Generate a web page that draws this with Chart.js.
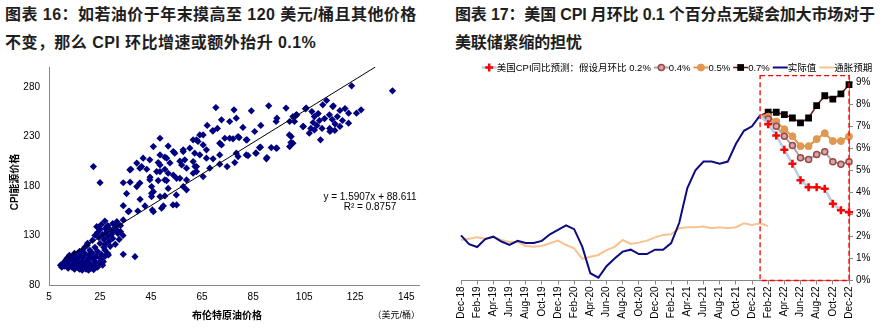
<!DOCTYPE html>
<html>
<head>
<meta charset="utf-8">
<script src="https://cdn.jsdelivr.net/npm/chart.js@4.4.0/dist/chart.umd.min.js"></script>
<style>
  body { margin: 0; background: #fff; width: 883px; height: 329px; overflow: hidden; position: relative;
         font-family: "Liberation Sans", "Noto Sans CJK SC", sans-serif; }
  .ttl { position: absolute; top: 1px; font-weight: bold; font-size: 16px; line-height: 28px; color: #1e1e1e; white-space: nowrap; }
  #cvL { position: absolute; left: 0; top: 0; }
  #cvR { position: absolute; left: 440px; top: 0; }
</style>
</head>
<body>
<div class="ttl" style="left:5px;letter-spacing:0.45px">图表 16：如若油价于年末摸高至 120 美元/桶且其他价格<br>不变，那么 CPI 环比增速或额外抬升 0.1%</div>
<div class="ttl" style="left:455px;letter-spacing:-0.15px">图表 17：美国 CPI 月环比 0.1 个百分点无疑会加大市场对于<br>美联储紧缩的担忧</div>
<canvas id="cvL" width="440" height="329"></canvas>
<canvas id="cvR" width="443" height="329"></canvas>
<script>
// ---- left: brent vs CPI energy ----
const brentPrice = [
  9.5, 10, 10.5, 11, 11.5, 12, 12.5, 13, 13, 13.5,
  14, 14, 14.5, 15, 15, 15.5, 16, 16, 16.5, 17,
  17, 17.5, 18, 18, 18.5, 18.5, 19, 19, 19.5, 20,
  20, 20.5, 21, 21, 21.5, 22, 22, 22.5, 23, 23.5,
  24, 24.5, 25, 25.5, 26, 26.5, 27, 28, 19, 17,
  16, 20, 23, 15, 13, 12, 18, 21, 24, 26,
  16.5, 17.5, 19.5, 14.5, 22.5, 20.5,
  26.3, 34.1, 38.7, 28.3, 26.9, 20.1,
  22, 23, 23.7, 24, 24.5, 25, 25, 25.5, 26, 26.5,
  26.9, 27, 27.5, 28, 28, 28.5, 29, 29.5, 30, 30,
  30.5, 31, 31.6, 32, 32.5, 33, 34.1, 31, 29, 27,
  33, 31.5, 31.5, 34,
  34.1, 36.4, 39.8, 45.5, 49.1, 35.4, 34.1, 36.8, 37.1, 39.4,
  40.7, 41.3, 42.6, 43.3, 44.6, 45.2, 45.9, 45.2, 48.5, 47.8,
  48.5, 47.8, 49.8, 50.4, 50.4, 51.7, 52.4, 54.3, 53.7, 55,
  56.3, 57.6, 58.2, 58.9, 60.2, 61.5, 62.1, 63.4, 62.8, 57.6,
  50.4, 51.7, 55, 22.4, 25, 45.2, 50.4, 54.9, 53.6, 45.9,
  36.1, 58.9, 36.7, 40.6, 51.1, 53.7, 57.6, 61.5, 64.1, 65.4,
  69.3, 71.9, 71.9, 75.8, 64.1, 66.7, 61.5, 57, 48.5, 47.2,
  51.7, 56.3, 58.9, 62.8, 51.1, 40.6, 44.5, 45.9, 48.5, 44.5,
  41.9, 39.4, 48.5,
  70.4, 77.5, 84.3, 91.1, 97.9, 72.6, 75.8, 78.4, 69.1, 65.4,
  62.8, 73.9, 77.1, 79.5, 82.6, 85.6, 87.5, 92.1, 94.3, 90.4,
  86, 83, 79.1, 74.8, 71.9, 68, 69.3, 72.6, 66.7, 62.2,
  65.4, 94.3, 99.3, 100.6, 102.1, 99.9, 99.3, 100.6, 94, 88,
  81, 67, 71, 82.3, 82.3, 86.2, 87.9, 90.2, 94, 77.8,
  78.4, 79.1,
  123.6, 139.6, 113.8, 116.4, 119, 122.4, 125.5, 127.3, 122.4, 117.1,
  115.1, 111.4, 105.8, 101.9, 101.2, 104.5, 107.6, 108.5, 109, 110,
  110.5, 111, 112, 112.3, 114.9, 107, 109, 99.2, 99.8, 113,
  116, 118, 120, 105.5, 108, 115, 117, 119, 121, 116.2,
  104.7, 101.6
];
const cpiEnergy = [
  100, 98, 102, 99, 104, 101, 97, 103, 106, 100,
  98, 104, 108, 96, 101, 105, 99, 103, 107, 96,
  110, 101, 95, 104, 98, 108, 101, 112, 96, 105,
  99, 110, 102, 115, 97, 107, 112, 100, 104, 109,
  114, 102, 107, 111, 104, 118, 109, 112, 118, 114,
  111, 120, 118, 112, 110, 107, 114, 108, 98, 100,
  97, 99, 103, 102, 95.5, 95,
  103.5, 111, 108.6, 110.3, 115.4, 122.1,
  125, 130, 138.9, 133, 128, 136, 122, 141, 131, 126,
  144.6, 137, 133, 129, 140, 124, 136, 131, 142, 127,
  135, 138, 143.9, 132, 126, 140, 145.7, 121, 119, 121,
  134, 142.3, 135.6, 130,
  160.1, 154.7, 154.7, 155.8, 157.5, 172.3, 183.2, 183.8, 196.8, 179.3,
  166.5, 199.5, 159.8, 196.8, 188.8, 179.3, 174.2, 169.2, 169.2, 185.4,
  194.5, 203.6, 159.8, 196.8, 209, 220.2, 203.2, 213, 190.9, 187.7,
  205, 214.6, 206.3, 186, 218.1, 192.8, 213, 224.8, 199.5, 179.3,
  186, 177.5, 160.8, 199.5, 183.3, 172.6, 169.9, 170.9, 160.8, 154,
  154, 176, 196.2, 197.9, 208, 214.6, 216.4, 226.5, 231.5, 221.4,
  235.6, 223.1, 211.3, 228.1, 211.3, 208, 204.6, 201.2, 201.2, 194.5,
  192.8, 187.7, 197.9, 194.5, 185.4, 182.9, 186.2, 219.7, 211.3, 206.3,
  208, 203, 228.1,
  259.1, 256.8, 255.8, 260.8, 258.5, 246.7, 245, 248.4, 235.6, 231.5,
  226.5, 228.1, 227.5, 228.8, 226.5, 234.9, 218.7, 218.7, 218.1, 208.6,
  213, 210.6, 209.6, 199.5, 201.9, 197.9, 207.3, 221.4, 216.4, 199.5,
  189.4, 248.4, 245, 250, 251.7, 229.8, 219.7, 223.1, 245, 241,
  239, 241, 238, 211.3, 226.5, 213, 219.1, 207.3, 218.1, 203.5,
  213, 229.8,
  281, 276, 266.2, 260.8, 256.1, 253.4, 253.4, 256.8, 243.3, 242.6,
  234.9, 226.5, 258.5, 251.7, 245, 239.9, 238, 244, 250, 241,
  253, 246, 238, 261.8, 251.7, 233.2, 236.5, 231.5, 223.8, 248,
  247, 250, 246, 257.8, 255, 238, 236, 240, 258, 260.1,
  240, 250.7
];
const trendSlope = 1.5907;
const trendIntercept = 88.611;
const trendX = [10.3, 132.9];
const xTicksL = [5, 25, 45, 65, 85, 105, 125, 145];
const yTicksL = [80, 130, 180, 230, 280];

// ---- right: US CPI yoy ----
const months = [
  'Dec-18','Jan-19','Feb-19','Mar-19','Apr-19','May-19','Jun-19','Jul-19','Aug-19','Sep-19','Oct-19','Nov-19',
  'Dec-19','Jan-20','Feb-20','Mar-20','Apr-20','May-20','Jun-20','Jul-20','Aug-20','Sep-20','Oct-20','Nov-20',
  'Dec-20','Jan-21','Feb-21','Mar-21','Apr-21','May-21','Jun-21','Jul-21','Aug-21','Sep-21','Oct-21','Nov-21',
  'Dec-21','Jan-22','Feb-22','Mar-22','Apr-22','May-22','Jun-22','Jul-22','Aug-22','Sep-22','Oct-22','Nov-22',
  'Dec-22'
];
const actualCpi = [2.05, 1.65, 1.52, 1.88, 1.99, 1.77, 1.62, 1.8, 1.7, 1.7, 1.8, 2.1,
  2.3, 2.5, 2.33, 1.54, 0.33, 0.13, 0.65, 1.0, 1.31, 1.4, 1.2, 1.2,
  1.4, 1.4, 1.7, 2.62, 4.2, 5.0, 5.4, 5.4, 5.3, 5.4, 6.2, 6.8,
  7.0, 7.5];
const inflationExp = [1.84, 1.9, 1.96, 1.9, 1.99, 1.84, 1.75, 1.75, 1.57, 1.53, 1.57, 1.69,
  1.81, 1.61, 1.46, 0.98, 1.08, 1.16, 1.38, 1.53, 1.84, 1.66, 1.72, 1.81,
  1.96, 2.07, 2.1, 2.37, 2.42, 2.42, 2.45, 2.37, 2.42, 2.37, 2.42, 2.6,
  2.52, 2.6, 2.47];
// Jan-22 .. Dec-22
const proj02 = [7.5, 7.1, 6.58, 5.94, 5.3, 4.55, 4.24, 4.24, 4.17, 3.49, 3.19, 3.1];
const proj04 = [7.5, 7.33, 7.0, 6.55, 6.13, 5.57, 5.5, 5.72, 5.85, 5.39, 5.28, 5.39];
const proj05 = [7.5, 7.44, 7.22, 6.87, 6.55, 6.1, 6.1, 6.42, 6.69, 6.33, 6.33, 6.54];
const proj07 = [7.5, 7.64, 7.64, 7.53, 7.38, 7.16, 7.38, 7.94, 8.39, 8.24, 8.47, 8.89];
const seriesNames = ['美国CPI同比预测：假设月环比 0.2%', '0.4%', '0.5%', '0.7%', '实际值', '通胀预期'];
const pctTicks = [0, 1, 2, 3, 4, 5, 6, 7, 8, 9];
const projStart = 37;

const FONT = '"Liberation Sans", "Noto Sans CJK SC", sans-serif';
Chart.defaults.font.family = FONT;
Chart.defaults.color = '#000';

function pad(arr) {
  return Array(projStart).fill(null).concat(arr);
}
function markR(r) {
  return (c) => (c.dataIndex === projStart ? 0 : r);
}

const leftText = {
  id: 'leftText',
  afterDraw(chart) {
    const c = chart.ctx;
    c.save();
    c.fillStyle = '#000';
    c.textBaseline = 'middle';
    c.textAlign = 'center';
    c.font = 'bold 10px ' + FONT;
    c.fillText('布伦特原油价格', 227, 316);
    c.textAlign = 'right';
    c.font = '9px ' + FONT;
    c.fillText('（美元/桶）', 420, 316);
    c.textAlign = 'center';
    c.font = '10px ' + FONT;
    c.fillText('y = 1.5907x + 88.611', 370, 197);
    c.fillText('R² = 0.8757', 370, 207.5);
    c.translate(15, 182);
    c.rotate(-Math.PI / 2);
    c.font = 'bold 10px ' + FONT;
    c.fillText('CPI能源价格', 0, 0);
    c.restore();
  }
};

new Chart(document.getElementById('cvL'), {
  type: 'scatter',
  data: {
    datasets: [
      {
        data: brentPrice.map((v, i) => ({ x: v, y: cpiEnergy[i] })),
        pointStyle: 'rectRot',
        pointRadius: 3.6,
        pointBackgroundColor: '#000080',
        pointBorderColor: '#000080',
        pointBorderWidth: 0,
        order: 1
      },
      {
        type: 'line',
        data: trendX.map((v) => ({ x: v, y: trendSlope * v + trendIntercept })),
        borderColor: '#000',
        borderWidth: 1,
        pointRadius: 0,
        fill: false,
        order: 0
      }
    ]
  },
  options: {
    responsive: false,
    animation: false,
    layout: { padding: { top: 67, right: 21, left: 0, bottom: 0 } },
    plugins: { legend: { display: false }, tooltip: { enabled: false } },
    scales: {
      x: {
        type: 'linear', min: 5, max: 150,
        afterBuildTicks: (s) => { s.ticks = xTicksL.map((v) => ({ value: v })); },
        afterFit: (s) => { s.height = 44; },
        grid: { display: false, drawTicks: false },
        border: { color: '#888' },
        ticks: { font: { size: 10 }, padding: 6, maxRotation: 0 }
      },
      y: {
        min: 80, max: 300,
        afterBuildTicks: (s) => { s.ticks = yTicksL.map((v) => ({ value: v })); },
        afterFit: (s) => { s.width = 49; },
        grid: { display: false, drawTicks: false },
        border: { color: '#888' },
        ticks: { font: { size: 10 }, padding: 9 }
      }
    }
  },
  plugins: [leftText]
});

const forecastBox = {
  id: 'forecastBox',
  afterDatasetsDraw(chart) {
    const { ctx, chartArea: a, scales: { x } } = chart;
    const left = x.getPixelForValue(projStart);
    ctx.save();
    ctx.strokeStyle = '#FF0000';
    ctx.lineWidth = 1.3;
    ctx.setLineDash([5, 3]);
    ctx.strokeRect(left, a.top, a.right - left, a.bottom - a.top);
    ctx.restore();
  }
};

const lineLegend = {
  id: 'lineLegend',
  afterDraw(chart) {
    const c = chart.ctx;
    const y = 67.5;
    let x = 41.7;
    c.save();
    c.font = '9.5px ' + FONT;
    c.textBaseline = 'middle';
    c.textAlign = 'left';
    chart.data.datasets.forEach((ds) => {
      c.strokeStyle = ds.borderColor;
      c.lineWidth = ds.borderWidth;
      c.beginPath();
      c.moveTo(x, y);
      c.lineTo(x + 15, y);
      c.stroke();
      if (ds.legendRadius) {
        c.fillStyle = ds.pointBackgroundColor;
        c.strokeStyle = ds.pointBorderColor;
        c.lineWidth = ds.pointBorderWidth;
        Chart.helpers.drawPoint(c, {
          pointStyle: ds.pointStyle, radius: ds.legendRadius,
          borderWidth: ds.pointBorderWidth, rotation: 0
        }, x + 7.5, y);
      }
      c.fillStyle = '#000';
      c.fillText(ds.label, x + 15, y + 0.5);
      x += 15 + c.measureText(ds.label).width + 3;
    });
    c.restore();
  }
};

new Chart(document.getElementById('cvR'), {
  type: 'line',
  data: {
    labels: months,
    datasets: [
      {
        label: seriesNames[0], data: pad(proj02),
        borderColor: '#B8CCE4', borderWidth: 2.5,
        pointStyle: 'cross', pointRadius: markR(4), legendRadius: 4,
        pointBackgroundColor: '#FF0000', pointBorderColor: '#FF0000', pointBorderWidth: 2.5
      },
      {
        label: seriesNames[1], data: pad(proj04),
        borderColor: '#A6A6A6', borderWidth: 2,
        pointStyle: 'circle', pointRadius: markR(3), legendRadius: 3,
        pointBackgroundColor: '#D6A7A5', pointBorderColor: '#9A4745', pointBorderWidth: 1.5
      },
      {
        label: seriesNames[2], data: pad(proj05),
        borderColor: '#E0974F', borderWidth: 2,
        pointStyle: 'circle', pointRadius: markR(3.5), legendRadius: 3.5,
        pointBackgroundColor: '#E0974F', pointBorderColor: '#E0974F', pointBorderWidth: 1
      },
      {
        label: seriesNames[3], data: pad(proj07),
        borderColor: '#7A0C0C', borderWidth: 1.5,
        pointStyle: 'rect', pointRadius: markR(4.8), legendRadius: 4.8,
        pointBackgroundColor: '#000', pointBorderColor: '#000', pointBorderWidth: 0
      },
      {
        label: seriesNames[4], data: actualCpi,
        borderColor: '#0C0C82', borderWidth: 2, pointRadius: 0
      },
      {
        label: seriesNames[5], data: inflationExp,
        borderColor: '#F9C290', borderWidth: 2, pointRadius: 0
      }
    ]
  },
  options: {
    responsive: false,
    animation: false,
    layout: { padding: { top: 75.7, left: 21, right: 0, bottom: 0 } },
    plugins: { legend: { display: false }, tooltip: { enabled: false } },
    scales: {
      x: {
        offset: false,
        afterFit: (s) => { s.height = 48.5; },
        grid: { drawOnChartArea: false, tickLength: 4, color: '#888' },
        border: { color: '#888' },
        ticks: {
          autoSkip: false, minRotation: 90, maxRotation: 90, padding: 2,
          font: { size: 10 },
          callback: (v, i) => (i % 2 === 0 ? months[i] : null)
        }
      },
      y: {
        position: 'right', min: 0, max: 9.3,
        afterBuildTicks: (s) => { s.ticks = pctTicks.map((v) => ({ value: v })); },
        afterFit: (s) => { s.width = 34; },
        grid: { drawOnChartArea: false, tickLength: 4, color: '#888' },
        border: { color: '#888' },
        ticks: { padding: 3, font: { size: 10 }, callback: (v) => v + '%' }
      }
    }
  },
  plugins: [forecastBox, lineLegend]
});
</script>
</body>
</html>
